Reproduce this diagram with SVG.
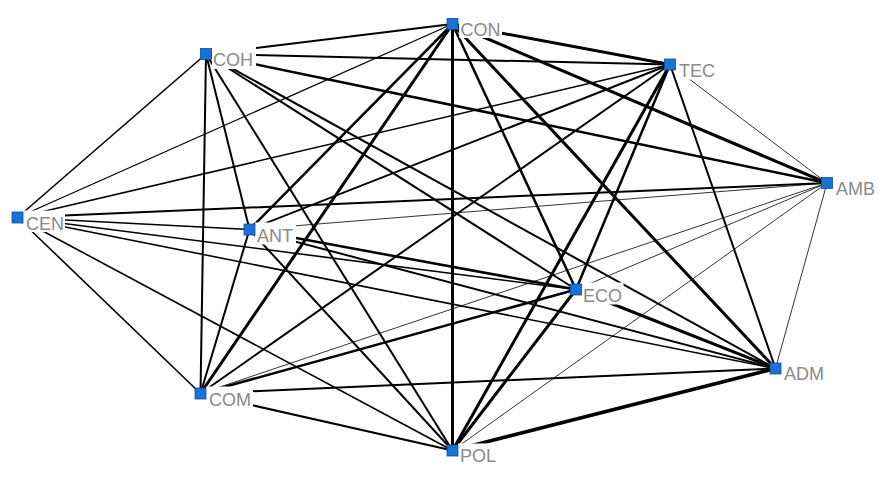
<svg xmlns="http://www.w3.org/2000/svg" width="889" height="479" viewBox="0 0 889 479">
<style>
.e{stroke:#000;fill:none}
.a{stroke-width:0.8}
.b{stroke-width:1.3}
.c{stroke-width:1.6}
.d{stroke-width:2}
.f{stroke-width:2.5}
.g{stroke-width:3}
.h{stroke-width:3.6}
.bg{fill:#fff}
.lb{font-family:"Liberation Sans",Arial,sans-serif;font-size:18px;fill:#8a8a8a}
.n{fill:#1a72d6;stroke:#0d4f9e;stroke-width:0.8}
</style>
<rect width="889" height="479" fill="#fff"/>
<g id="edges">
<line class="e d" x1="452.5" y1="24" x2="206" y2="54"/>
<line class="e g" x1="452.5" y1="24" x2="670" y2="64.5"/>
<line class="e g" x1="452.5" y1="24" x2="827" y2="183"/>
<line class="e b" x1="452.5" y1="24" x2="17.5" y2="217.5"/>
<line class="e f" x1="452.5" y1="24" x2="249.5" y2="229.5"/>
<line class="e f" x1="452.5" y1="24" x2="576" y2="289.5"/>
<line class="e g" x1="452.5" y1="24" x2="775.5" y2="368.5"/>
<line class="e g" x1="452.5" y1="24" x2="200.5" y2="393.5"/>
<line class="e g" x1="452.5" y1="24" x2="452.5" y2="450.5"/>
<line class="e d" x1="206" y1="54" x2="670" y2="64.5"/>
<line class="e f" x1="206" y1="54" x2="827" y2="183"/>
<line class="e c" x1="206" y1="54" x2="17.5" y2="217.5"/>
<line class="e d" x1="206" y1="54" x2="249.5" y2="229.5"/>
<line class="e d" x1="206" y1="54" x2="576" y2="289.5"/>
<line class="e d" x1="206" y1="54" x2="775.5" y2="368.5"/>
<line class="e d" x1="206" y1="54" x2="200.5" y2="393.5"/>
<line class="e d" x1="206" y1="54" x2="452.5" y2="450.5"/>
<line class="e a" x1="670" y1="64.5" x2="827" y2="183"/>
<line class="e c" x1="670" y1="64.5" x2="17.5" y2="217.5"/>
<line class="e d" x1="670" y1="64.5" x2="249.5" y2="229.5"/>
<line class="e f" x1="670" y1="64.5" x2="576" y2="289.5"/>
<line class="e d" x1="670" y1="64.5" x2="775.5" y2="368.5"/>
<line class="e d" x1="670" y1="64.5" x2="200.5" y2="393.5"/>
<line class="e g" x1="670" y1="64.5" x2="452.5" y2="450.5"/>
<line class="e d" x1="827" y1="183" x2="17.5" y2="217.5"/>
<line class="e a" x1="827" y1="183" x2="249.5" y2="229.5"/>
<line class="e a" x1="827" y1="183" x2="576" y2="289.5"/>
<line class="e a" x1="827" y1="183" x2="775.5" y2="368.5"/>
<line class="e a" x1="827" y1="183" x2="200.5" y2="393.5"/>
<line class="e a" x1="827" y1="183" x2="452.5" y2="450.5"/>
<line class="e c" x1="17.5" y1="217.5" x2="249.5" y2="229.5"/>
<line class="e c" x1="17.5" y1="217.5" x2="576" y2="289.5"/>
<line class="e c" x1="17.5" y1="217.5" x2="775.5" y2="368.5"/>
<line class="e c" x1="17.5" y1="217.5" x2="200.5" y2="393.5"/>
<line class="e c" x1="17.5" y1="217.5" x2="452.5" y2="450.5"/>
<line class="e f" x1="249.5" y1="229.5" x2="576" y2="289.5"/>
<line class="e d" x1="249.5" y1="229.5" x2="775.5" y2="368.5"/>
<line class="e d" x1="249.5" y1="229.5" x2="200.5" y2="393.5"/>
<line class="e d" x1="249.5" y1="229.5" x2="452.5" y2="450.5"/>
<line class="e g" x1="576" y1="289.5" x2="775.5" y2="368.5"/>
<line class="e f" x1="576" y1="289.5" x2="200.5" y2="393.5"/>
<line class="e g" x1="576" y1="289.5" x2="452.5" y2="450.5"/>
<line class="e d" x1="775.5" y1="368.5" x2="200.5" y2="393.5"/>
<line class="e h" x1="775.5" y1="368.5" x2="452.5" y2="450.5"/>
<line class="e d" x1="200.5" y1="393.5" x2="452.5" y2="450.5"/>
</g>
<g id="CON"><rect class="bg" x="459" y="17" width="43" height="21"/><text class="lb" x="460.5" y="36">CON</text><rect class="n" x="447" y="18.5" width="11" height="11"/></g>
<g id="COH"><rect class="bg" x="212" y="47" width="44" height="22"/><text class="lb" x="213" y="66">COH</text><rect class="n" x="200.5" y="48.5" width="11" height="11"/></g>
<g id="TEC"><rect class="bg" x="676" y="57.5" width="40" height="22"/><text class="lb" x="679" y="77">TEC</text><rect class="n" x="664.5" y="59" width="11" height="11"/></g>
<g id="AMB"><rect class="bg" x="833" y="176" width="44" height="22"/><text class="lb" x="836" y="195">AMB</text><rect class="n" x="821.5" y="177.5" width="11" height="11"/></g>
<g id="CEN"><rect class="bg" x="23" y="210.5" width="42" height="21.5"/><text class="lb" x="26" y="230">CEN</text><rect class="n" x="12" y="212" width="11" height="11"/></g>
<g id="ANT"><rect class="bg" x="255" y="222.5" width="41" height="22"/><text class="lb" x="257" y="242">ANT</text><rect class="n" x="244" y="224" width="11" height="11"/></g>
<g id="ECO"><rect class="bg" x="581.5" y="282.5" width="42" height="22"/><text class="lb" x="583" y="302">ECO</text><rect class="n" x="570.5" y="284" width="11" height="11"/></g>
<g id="ADM"><rect class="bg" x="781" y="361.5" width="43" height="21.5"/><text class="lb" x="784" y="380">ADM</text><rect class="n" x="770" y="363" width="11" height="11"/></g>
<g id="COM"><rect class="bg" x="206" y="386.5" width="47" height="22"/><text class="lb" x="209" y="406">COM</text><rect class="n" x="195" y="388" width="11" height="11"/></g>
<g id="POL"><rect class="bg" x="458" y="443.5" width="41" height="21.5"/><text class="lb" x="460" y="462">POL</text><rect class="n" x="447" y="445" width="11" height="11"/></g>
</svg>
